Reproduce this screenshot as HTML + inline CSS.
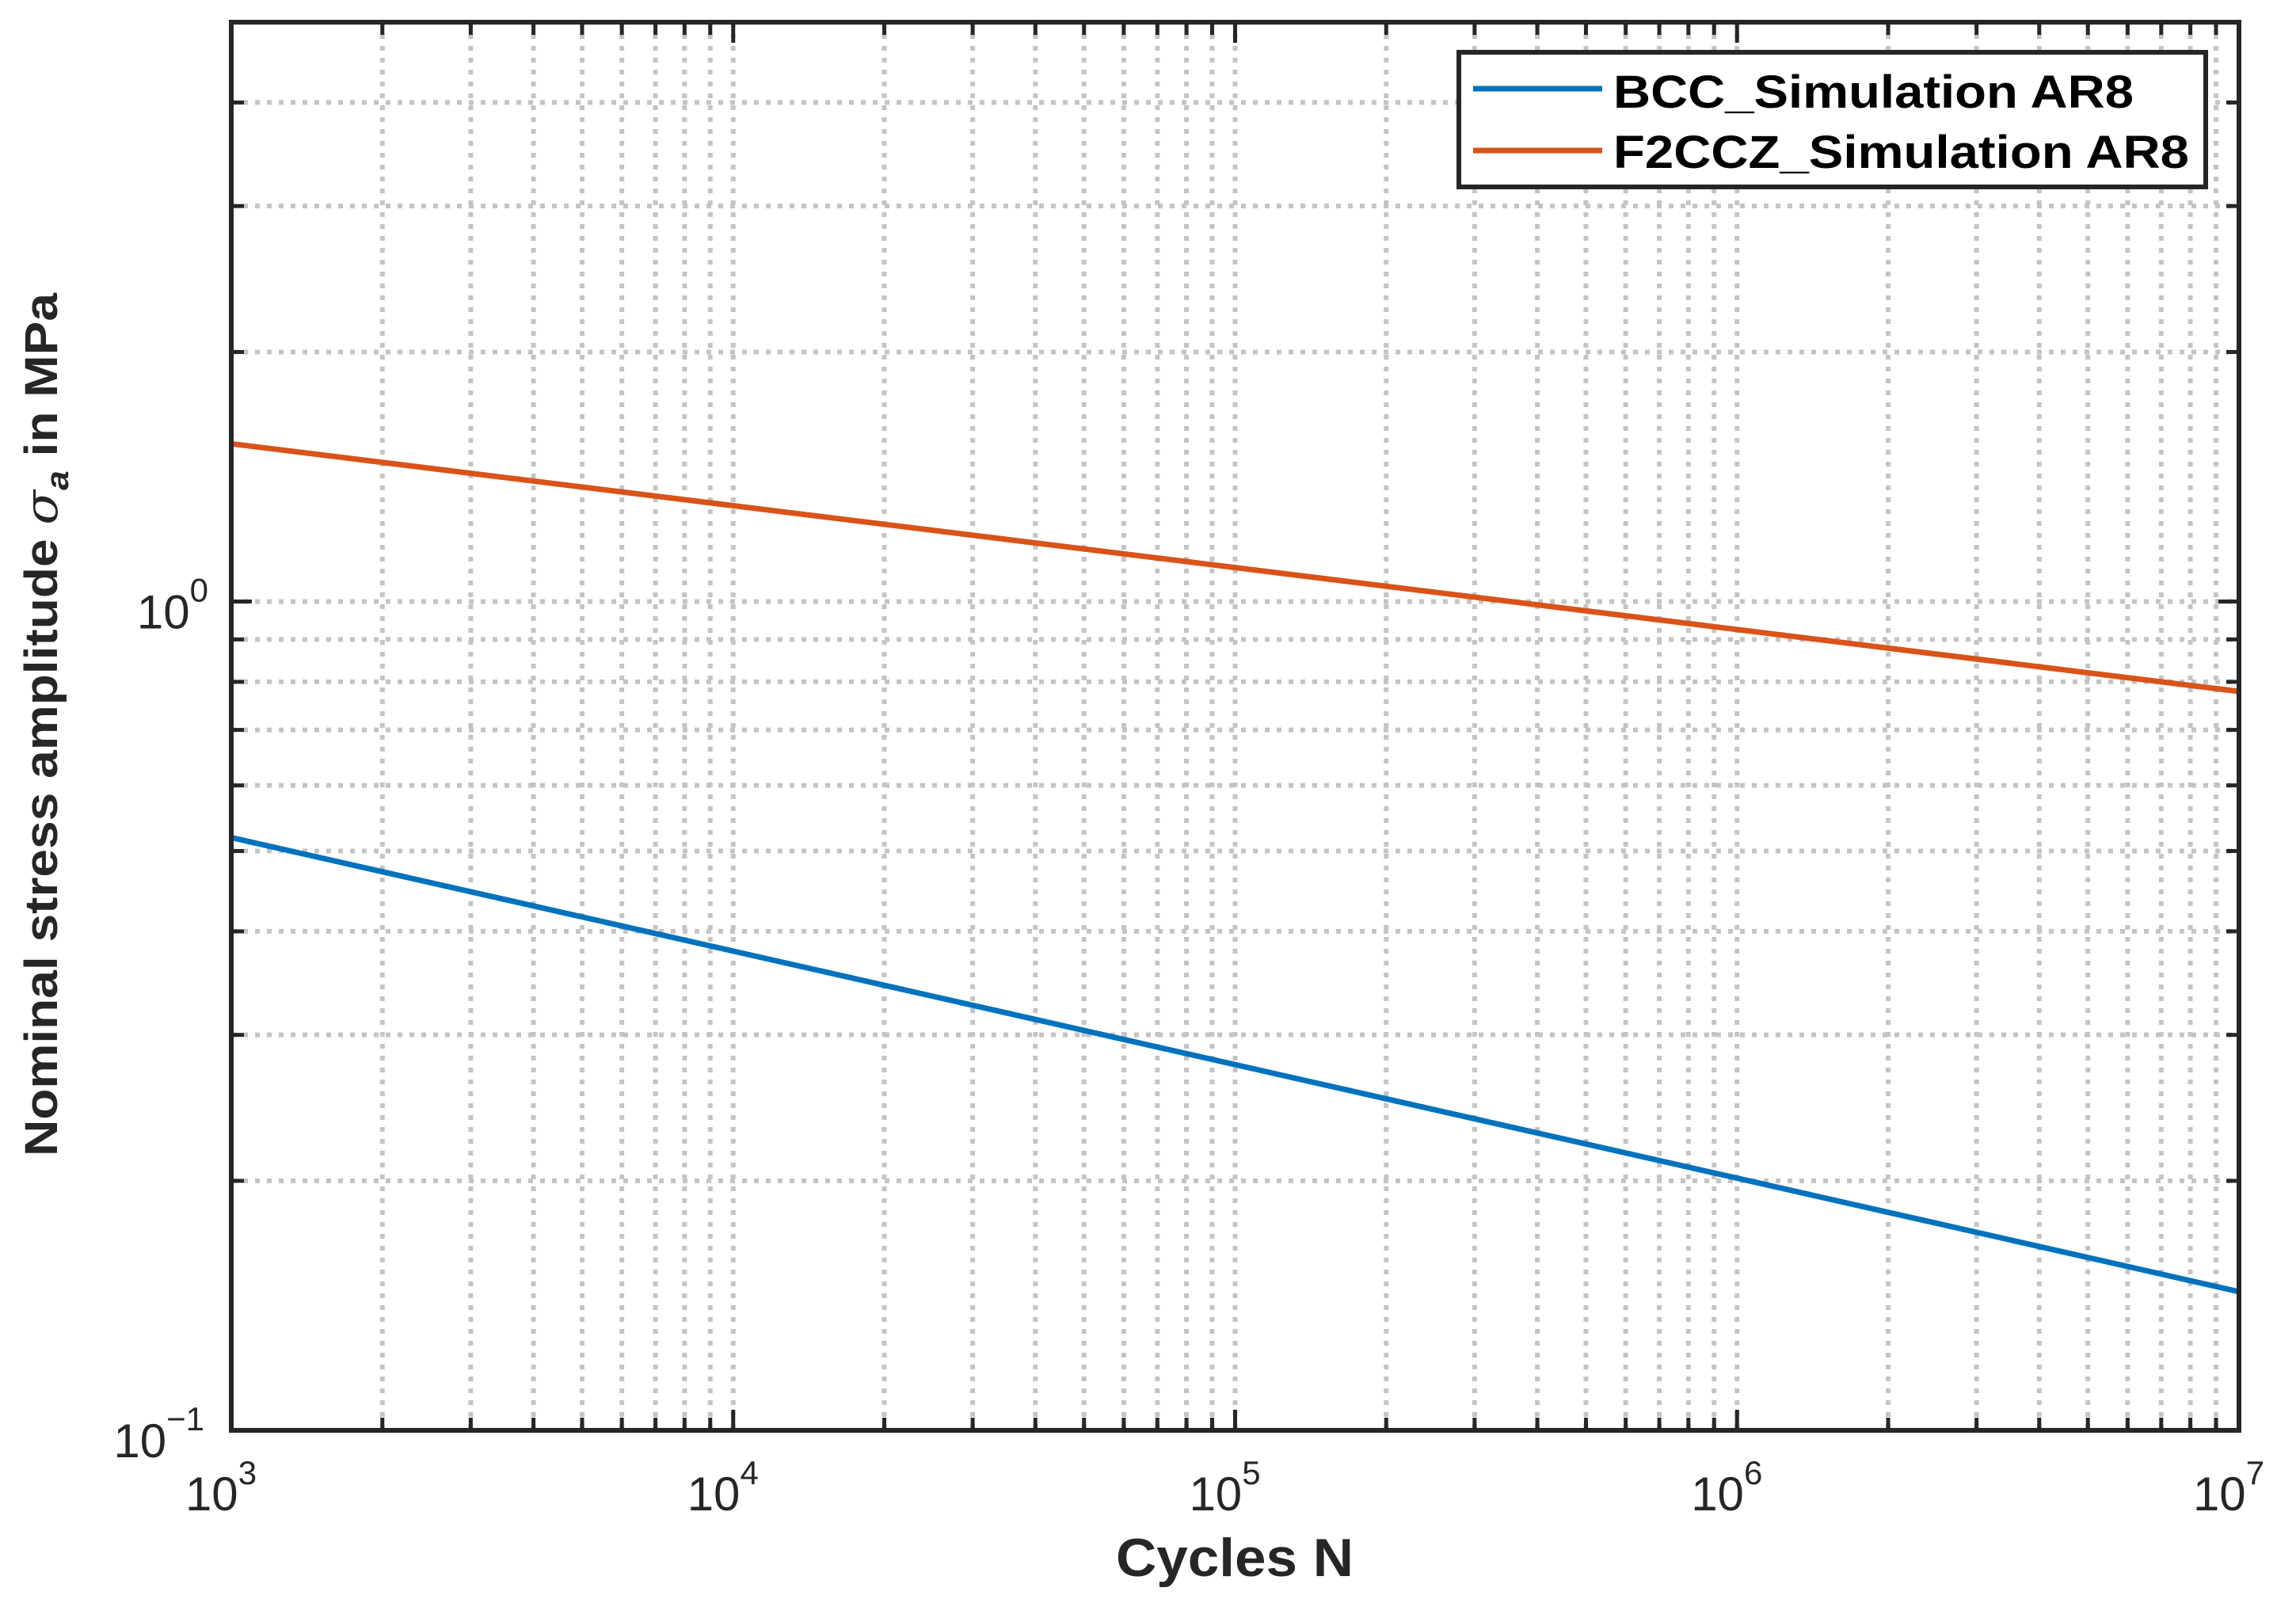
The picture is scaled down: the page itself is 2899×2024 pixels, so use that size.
<!DOCTYPE html>
<html><head><meta charset="utf-8"><style>
html,body{margin:0;padding:0;background:#fff;}
svg{display:block;font-family:"Liberation Sans",Arial,sans-serif;}
</style></head><body>
<svg id="chart" width="2899" height="2024" viewBox="0 0 2899 2024" xmlns="http://www.w3.org/2000/svg">
<g id="grid"></g>
<g id="series"></g>
<g id="axes"></g>
<text x="1559" y="1990" font-size="68" font-weight="bold" fill="#262626" text-anchor="middle" textLength="300" lengthAdjust="spacingAndGlyphs">Cycles N</text>
<text transform="translate(72,915) rotate(-90)" font-size="58" font-weight="bold" fill="#262626" text-anchor="middle" textLength="1090" lengthAdjust="spacingAndGlyphs">Nominal stress amplitude <tspan font-style="italic" font-weight="normal" font-family="'DejaVu Serif',serif">σ</tspan><tspan font-size="40" dy="14" font-style="italic">a</tspan><tspan dy="-14"> in MPa</tspan></text>
<g>
<rect x="1842" y="66" width="943" height="170" fill="#fff" stroke="#262626" stroke-width="6"/>
<line x1="1860" y1="112" x2="2023" y2="112" stroke="#0072BD" stroke-width="7"/>
<text x="2037" y="136" font-size="58" font-weight="bold" fill="#000" textLength="657" lengthAdjust="spacingAndGlyphs">BCC_Simulation AR8</text>
<line x1="1860" y1="190" x2="2023" y2="190" stroke="#D95319" stroke-width="7"/>
<text x="2037" y="212" font-size="58" font-weight="bold" fill="#000" textLength="727" lengthAdjust="spacingAndGlyphs">F2CCZ_Simulation AR8</text>
</g>
</svg>
<script>
const seriesNames = ["BCC_Simulation AR8", "F2CCZ_Simulation AR8"];
const cyclesN = [1e3, 1e7];
const bccValues = [0.519, 0.147];
const f2cczValues = [1.55, 0.779];
const xTickExps = [3, 4, 5, 6, 7];
const yTickExps = [-1, 0];
const xDomain = [1e3, 1e7];
const yDomain = [0.1, 5];

const L = 292, R = 2827, T = 28, B = 1806;
const NS = "http://www.w3.org/2000/svg";
function xs(v){ return L + (Math.log10(v) - Math.log10(xDomain[0])) / (Math.log10(xDomain[1]) - Math.log10(xDomain[0])) * (R - L); }
function ys(v){ return B - (Math.log10(v) - Math.log10(yDomain[0])) / (Math.log10(yDomain[1]) - Math.log10(yDomain[0])) * (B - T); }
function mk(tag, attrs, parent){ const e = document.createElementNS(NS, tag); for (const k in attrs) e.setAttribute(k, attrs[k]); parent.appendChild(e); return e; }

const grid = document.getElementById('grid');
const axes = document.getElementById('axes');
const series = document.getElementById('series');
const gridStyle = {stroke:"#c4c4c4", "stroke-width":6, "stroke-dasharray":"6 9"};

for (let e = 3; e < 7; e++) {
  for (let m = 1; m <= 9; m++) {
    const v = m * Math.pow(10, e);
    if (v <= xDomain[0]) continue;
    const x = xs(v);
    const g = mk('line', Object.assign({x1:x, y1:T, x2:x, y2:B}, gridStyle), grid);
    
    
    const len = m === 1 ? 26 : 16;
    const t1 = mk('line', {x1:x, y1:B, x2:x, y2:B-len, stroke:"#262626", "stroke-width":5}, axes);
    
    
    const t2 = mk('line', {x1:x, y1:T, x2:x, y2:T+len, stroke:"#262626", "stroke-width":5}, axes);
    
    
  }
}
for (let e = -1; e <= 0; e++) {
  for (let m = 1; m <= 9; m++) {
    const v = m * Math.pow(10, e);
    if (v <= yDomain[0] || v > yDomain[1]) continue;
    const y = ys(v);
    const g = mk('line', Object.assign({x1:L, y1:y, x2:R, y2:y}, gridStyle), grid);
    
    
    const len = m === 1 ? 26 : 16;
    const t1 = mk('line', {x1:L, y1:y, x2:L+len, y2:y, stroke:"#262626", "stroke-width":5}, axes);
    
    
    const t2 = mk('line', {x1:R, y1:y, x2:R-len, y2:y, stroke:"#262626", "stroke-width":5}, axes);
    
    
  }
}
const frame = mk('rect', {x:L, y:T, width:R-L, height:B-T, fill:"none", stroke:"#262626", "stroke-width":6}, axes);



xTickExps.forEach(function(e){
  const x = xs(Math.pow(10, e));
  const t = mk('text', {x:x - 13, y:1907, "font-size":60, fill:"#262626", "text-anchor":"middle"}, axes);
  
  
  t.textContent = "10";
  const s = mk('tspan', {"font-size":42, dy:-33}, t);
  s.textContent = String(e);
});
yTickExps.forEach(function(e){
  const y = ys(Math.pow(10, e));
  const t = mk('text', {x:e < 0 ? 258 : 263, y:y + 34, "font-size":60, fill:"#262626", "text-anchor":"end"}, axes);
  
  
  t.textContent = "10";
  const s = mk('tspan', {"font-size":42, dy:-34}, t);
  s.textContent = e < 0 ? "\u22121" : String(e);
});

function drawLine(vals, color, name){
  const pts = cyclesN.map(function(n, i){ return xs(n) + "," + ys(vals[i]); }).join(" ");
  const p = mk('polyline', {points:pts, fill:"none", stroke:color, "stroke-width":7}, series);
  
  
}
drawLine(bccValues, "#0072BD", "bcc-line");
drawLine(f2cczValues, "#D95319", "f2ccz-line");
</script>
</body></html>
